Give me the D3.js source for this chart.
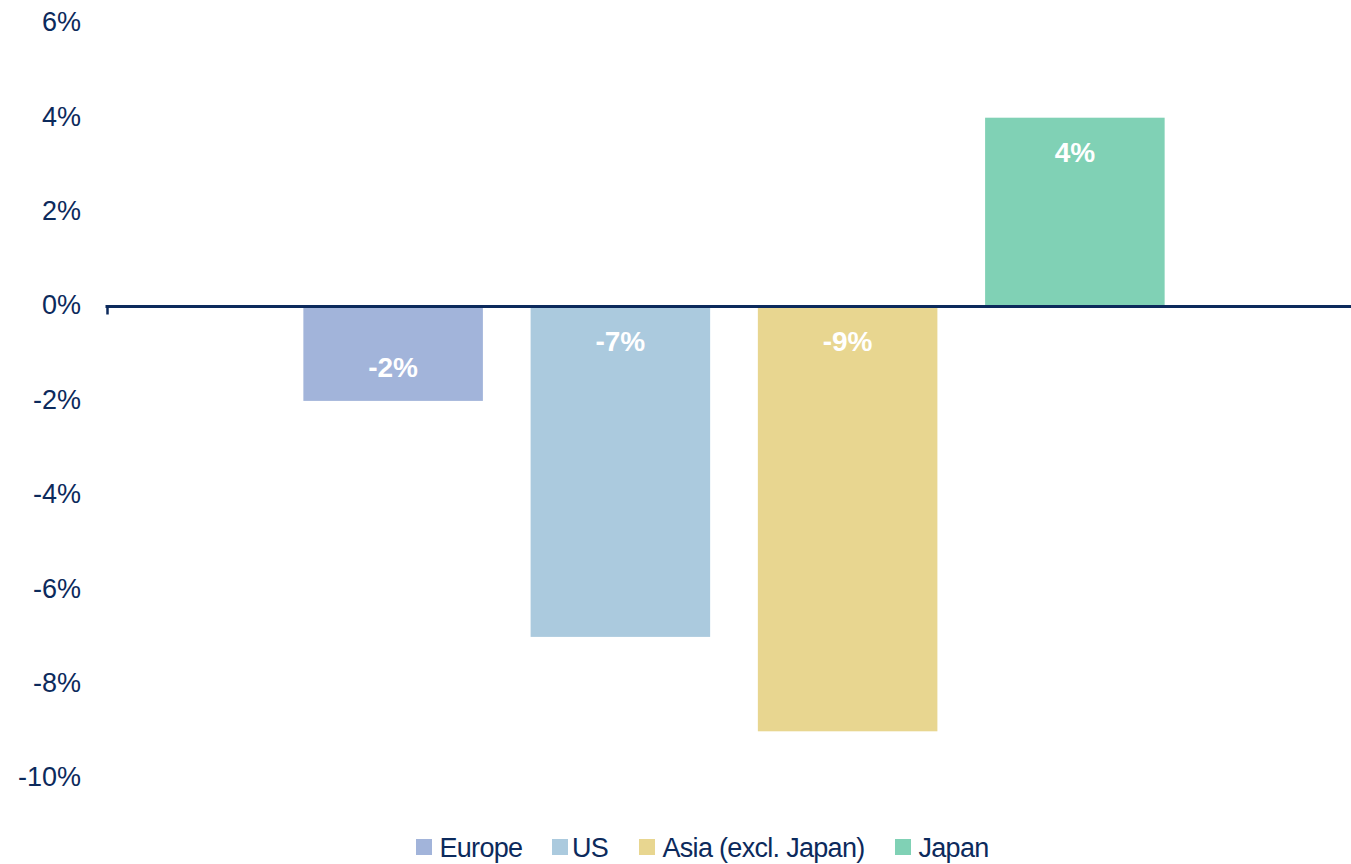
<!DOCTYPE html>
<html>
<head>
<meta charset="utf-8">
<script src="https://cdn.jsdelivr.net/npm/d3@7"></script>
<style>
  html, body { margin: 0; padding: 0; background: #fff; }
  svg text { font-family: "Liberation Sans", Arial, sans-serif; }
</style>
</head>
<body>
<svg id="chart" width="1351" height="864"></svg>
<script>
// data
let regions = ["Europe", "US", "Asia (excl. Japan)", "Japan"];
let returns = [-2, -7, -9, 4];
let colours = ["#a2b4da", "#abcade", "#e8d690", "#80d1b5"];
let y_ticks = [6, 4, 2, 0, -2, -4, -6, -8, -10];
// where the value label sits inside each bar
let label_pos = ["end", "base", "base", "end"];

let navy = "#0c2a5c";

let svg = d3.select("#chart");

let x = d3.scaleBand()
    .domain(regions)
    .range([279.5, 1188.5])
    .paddingInner(0.21)
    .paddingOuter(0.105);

let y = d3.scaleLinear()
    .domain([-10, 6])
    .range([778.5, 23.3]);

let data = regions.map((r, i) => ({region: r, value: returns[i], colour: colours[i], pos: label_pos[i]}));

// y tick labels (no axis line)
svg.selectAll("text.y-label")
    .data(y_ticks).enter()
    .append("text")
    .classed("y-label", true)
    .attr("x", 81)
    .attr("y", (d) => y(d) - 1.5)
    .attr("dy", "0.35em")
    .attr("text-anchor", "end")
    .attr("fill", navy)
    .style("font-size", "27px")
    .text((d) => d + "%");

// bars
svg.selectAll("rect.bar")
    .data(data).enter()
    .append("rect")
    .classed("bar", true)
    .attr("x", (d) => x(d.region))
    .attr("y", (d) => y(Math.max(0, d.value)))
    .attr("width", x.bandwidth())
    .attr("height", (d) => Math.abs(y(d.value) - y(0)))
    .attr("fill", (d) => d.colour);

// zero line with a little tick at its left end
let x_axis = d3.axisBottom(d3.scaleLinear().domain([0, 1]).range([107, 1351]))
    .tickValues([0])
    .tickSize(8)
    .tickFormat("");

svg.append("g")
    .attr("transform", "translate(0," + y(0) + ")")
    .call(x_axis)
    .call((g) => g.select(".domain").attr("d", "M105.5,0H1351").attr("stroke", navy).attr("stroke-width", 3))
    .call((g) => g.selectAll(".tick line").attr("stroke", navy).attr("stroke-width", 2.5));

// value labels
svg.selectAll("text.bar-label")
    .data(data).enter()
    .append("text")
    .classed("bar-label", true)
    .attr("x", (d) => x(d.region) + x.bandwidth() / 2)
    .attr("y", (d) => {
        let sign = d.value >= 0 ? 1 : -1;
        if (d.pos === "end") return y(d.value) + sign * 34;
        return y(0) - sign * 35;
    })
    .attr("dy", "0.35em")
    .attr("text-anchor", "middle")
    .attr("fill", "#fff")
    .style("font-size", "28px")
    .style("font-weight", "bold")
    .text((d) => d.value + "%");

// legend
let legend_x = [416, 552, 639, 895];
let legend = svg.selectAll("g.legend")
    .data(data).enter()
    .append("g")
    .classed("legend", true)
    .attr("transform", (d, i) => "translate(" + legend_x[i] + ",839)");

legend.append("rect")
    .attr("width", 16)
    .attr("height", 16)
    .attr("fill", (d) => d.colour);

legend.append("text")
    .attr("x", (d, i) => i === 1 ? 20 : 23.5)
    .attr("y", 18)
    .attr("fill", navy)
    .style("font-size", "27px")
    .style("letter-spacing", "-0.7px")
    .text((d) => d.region);
</script>
</body>
</html>
